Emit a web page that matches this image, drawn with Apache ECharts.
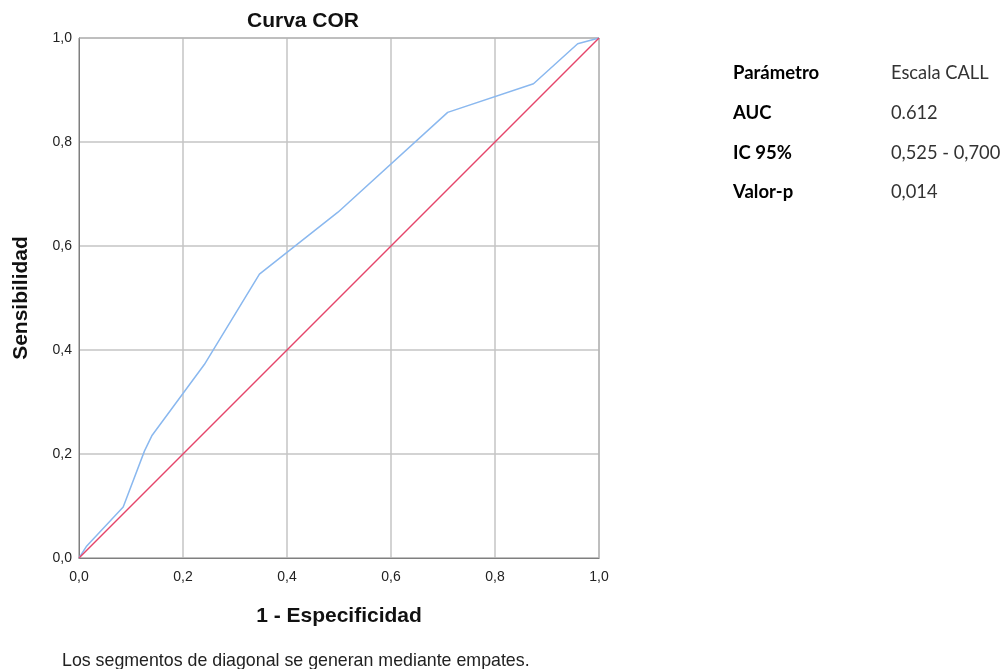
<!DOCTYPE html>
<html><head><meta charset="utf-8">
<script src="https://cdn.jsdelivr.net/npm/echarts@6/dist/echarts.min.js"></script>
<style>html,body{margin:0;padding:0;background:#fff}#c{width:1006px;height:669px}</style>
</head><body><div id="c"></div>
<script>
const rocX = [0, 0.014, 0.085, 0.126, 0.14, 0.241, 0.347, 0.498, 0.709, 0.874, 0.959, 1];
const rocY = [0, 0.022, 0.098, 0.206, 0.235, 0.372, 0.546, 0.665, 0.857, 0.912, 0.989, 1];
const diagX = [0, 1];
const diagY = [0, 1];
const tableLabels = ['Parámetro', 'AUC', 'IC 95%', 'Valor-p'];
const tableValues = ['Escala CALL', '0.612', '0,525 - 0,700', '0,014'];

const chart = echarts.init(document.getElementById('c'), null, {renderer: 'canvas'});
const fmt = v => v.toFixed(1).replace('.', ',');
const axisCommon = {
  type: 'value', min: 0, max: 1, interval: 0.2,
  axisLine: {show: true, lineStyle: {color: '#555', width: 1}},
  axisTick: {show: false},
  splitLine: {show: true, lineStyle: {color: '#c4c4c4', width: 1.5}},
  axisLabel: {formatter: fmt, color: '#222', fontSize: 14, fontFamily: 'Liberation Sans, Arial'},
  nameLocation: 'middle',
  nameTextStyle: {fontSize: 21, fontWeight: 'bold', color: '#111', fontFamily: 'Liberation Sans, Arial'}
};
const graphics = [];
const rowY = [73, 113, 153, 192];
tableLabels.forEach((t, i) => {
  graphics.push({type: 'text', left: 733, top: rowY[i] - 9, style: {text: t, font: 'bold 18.5px Lato, "Open Sans", sans-serif', fill: '#000'}});
  graphics.push({type: 'text', left: 891, top: rowY[i] - 9, style: {text: tableValues[i], font: '18.3px Lato, "Open Sans", sans-serif', fill: '#333'}});
});
graphics.push({type: 'text', left: 62, top: 652, style: {text: 'Los segmentos de diagonal se generan mediante empates.', font: '17.8px "Liberation Sans", Arial, sans-serif', fill: '#222'}});
graphics.push({type: 'rect', shape: {x: 79, y: 38, width: 520, height: 520}, style: {fill: 'none', stroke: '#aaa', lineWidth: 1}, z: 1});

chart.setOption({
  animation: false,
  backgroundColor: '#fff',
  title: {text: 'Curva COR', left: 298, top: 6, textAlign: 'center',
    textStyle: {fontSize: 21, fontWeight: 'bold', color: '#111', fontFamily: 'Liberation Sans, Arial'}},
  grid: {left: 79, right: 407, top: 38, bottom: 111, containLabel: false},
  xAxis: Object.assign({}, axisCommon, {name: '1 - Especificidad', nameGap: 48,
    axisLabel: Object.assign({}, axisCommon.axisLabel, {margin: 12})}),
  yAxis: Object.assign({}, axisCommon, {name: 'Sensibilidad', nameGap: 47,
    axisLabel: Object.assign({}, axisCommon.axisLabel, {margin: 7})}),
  graphic: graphics,
  series: [
    {type: 'line', data: rocX.map((x, i) => [x, rocY[i]]), showSymbol: false,
      lineStyle: {color: '#8ab8ef', width: 1.5}, z: 3},
    {type: 'line', data: diagX.map((x, i) => [x, diagY[i]]), showSymbol: false,
      lineStyle: {color: '#e5456a', width: 1.5}, z: 4}
  ]
});
</script></body></html>
